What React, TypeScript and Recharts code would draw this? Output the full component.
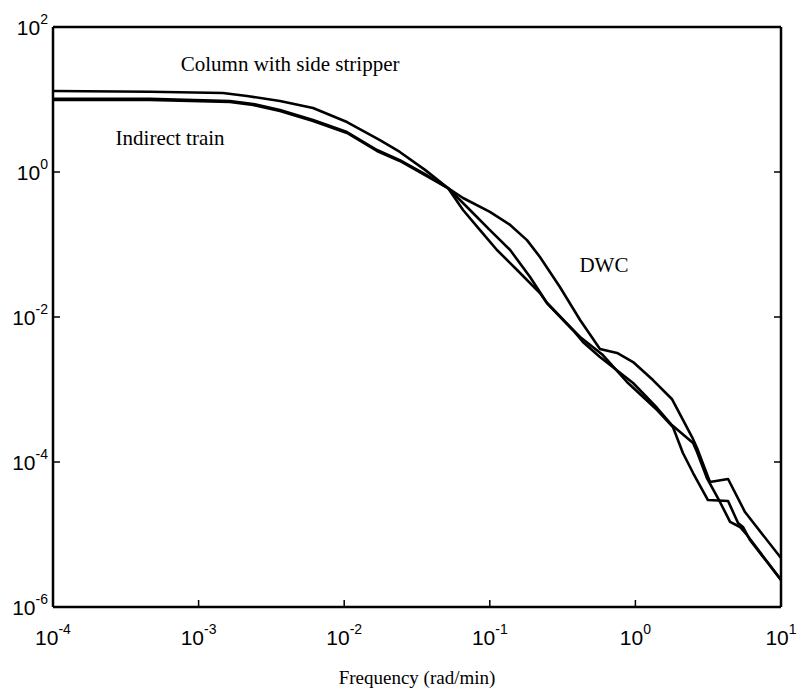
import React from "react";
import { LineChart, Line, XAxis, YAxis, ReferenceDot } from "recharts";

// Frequency (rad/min) and magnitude
const columnFreq = [1e-4, 4.63e-4, 1.47e-3, 2.15e-3, 3.62e-3, 6.11e-3, 0.01045, 0.0176, 0.0241, 0.0359, 0.0516, 0.0655, 0.0857, 0.112, 0.154, 0.221, 0.247, 0.372, 0.436, 0.571, 0.964, 1.41, 1.78, 2.49, 2.65, 3.1, 3.81, 4.47, 5.23, 5.84, 10];
const columnVal = [13.1, 12.8, 12.3, 11.2, 9.53, 7.63, 4.89, 2.76, 1.89, 1.07, 0.601, 0.299, 0.158, 0.0839, 0.0445, 0.0214, 0.0156, 0.00662, 0.00452, 0.00281, 0.00123, 0.000556, 0.000324, 0.000183, 0.000137, 6.01e-5, 2.81e-5, 1.49e-5, 1.27e-5, 9.84e-6, 2.36e-6];

const indirectFreq = [1e-4, 4.63e-4, 1.64e-3, 2.37e-3, 3.62e-3, 6.11e-3, 0.01045, 0.0168, 0.0241, 0.0359, 0.0516, 0.0731, 0.1002, 0.138, 0.189, 0.247, 0.356, 0.417, 0.598, 0.875, 1.41, 1.81, 2.12, 2.49, 3.15, 4.33, 5.07, 5.48, 6.12, 10];
const indirectVal = [10.2, 10.2, 9.53, 8.67, 7.16, 5.21, 3.56, 2.01, 1.46, 0.938, 0.601, 0.299, 0.158, 0.0839, 0.0356, 0.0156, 0.00728, 0.0053, 0.00299, 0.00127, 0.000521, 0.000304, 0.000133, 7.05e-5, 2.99e-5, 2.9e-5, 1.44e-5, 1.27e-5, 8.4e-6, 2.36e-6];

const dwcFreq = [1e-4, 4.63e-4, 1.64e-3, 2.37e-3, 3.62e-3, 6.11e-3, 0.01045, 0.0168, 0.0241, 0.0359, 0.0516, 0.0655, 0.1002, 0.138, 0.18, 0.221, 0.303, 0.417, 0.571, 0.748, 0.964, 1.32, 1.78, 2.45, 2.65, 3.25, 4.33, 5.66, 10];
const dwcVal = [9.85, 9.85, 9.24, 8.4, 6.93, 5.05, 3.45, 1.95, 1.42, 0.909, 0.601, 0.438, 0.281, 0.186, 0.115, 0.0673, 0.0259, 0.0091, 0.00362, 0.00319, 0.00239, 0.00135, 0.00074, 0.000221, 0.000156, 5.3e-5, 5.83e-5, 2.04e-5, 4.74e-6];

const xTicks = [1e-4, 1e-3, 1e-2, 1e-1, 1, 10];
const yTicks = [1e-6, 1e-4, 1e-2, 1, 100];

const xLabel = "Frequency (rad/min)";
const annotations = [
  { text: "Column with side stripper", f: 4.25e-3, v: 30.9 },
  { text: "Indirect train", f: 6.37e-4, v: 2.94 },
  { text: "DWC", f: 0.608, v: 0.0521 },
];

const toRows = (fs: number[], vs: number[]) => fs.map((f, i) => ({ f, v: vs[i] }));
const columnData = toRows(columnFreq, columnVal);
const indirectData = toRows(indirectFreq, indirectVal);
const dwcData = toRows(dwcFreq, dwcVal);

const SANS = "'Liberation Sans', Arial, sans-serif";
const SERIF = "'Liberation Serif', 'Times New Roman', serif";

const expOf = (v: number) => Math.round(Math.log10(v));

const BottomTick = (props: any) => {
  const { x, y, payload } = props;
  return (
    <g>
      <line x1={x} y1={y} x2={x} y2={y - 7} stroke="#000" strokeWidth={1.5} />
      <text x={x} y={y + 38} textAnchor="middle" fontFamily={SANS} fontSize={21} fill="#000">
        10<tspan dy={-11} fontSize={14}>{expOf(payload.value)}</tspan>
      </text>
    </g>
  );
};

const TopTick = (props: any) => {
  const { x, y } = props;
  return <line x1={x} y1={y} x2={x} y2={y + 7} stroke="#000" strokeWidth={1.5} />;
};

const LeftTick = (props: any) => {
  const { x, y, payload } = props;
  return (
    <g>
      <line x1={x} y1={y} x2={x + 7} y2={y} stroke="#000" strokeWidth={1.5} />
      <text x={x - 5} y={y + 8} textAnchor="end" fontFamily={SANS} fontSize={21} fill="#000">
        10<tspan dy={-11} fontSize={14}>{expOf(payload.value)}</tspan>
      </text>
    </g>
  );
};

const RightTick = (props: any) => {
  const { x, y } = props;
  return <line x1={x} y1={y} x2={x - 7} y2={y} stroke="#000" strokeWidth={1.5} />;
};

const lineProps = { type: "linear" as const, stroke: "#000", strokeWidth: 2.6, strokeLinejoin: "round" as const, dot: false, isAnimationActive: false };

export default function App() {
  return (
    <div style={{ position: "absolute", left: 0, top: 0, background: "#fff" }}>
      <LineChart width={799} height={693} margin={{ top: 0, right: 0, bottom: 0, left: 0 }}>
        <XAxis
          xAxisId="b"
          dataKey="f"
          type="number"
          scale="log"
          domain={[1e-4, 10]}
          ticks={xTicks}
          allowDataOverflow
          height={86}
          tickSize={0}
          tickMargin={0}
          tickLine={false}
          axisLine={{ stroke: "#000", strokeWidth: 2.5 }}
          tick={<BottomTick />}
          interval={0}
          label={{ value: xLabel, position: "insideBottom", offset: 9, fill: "#000", fontFamily: SERIF, fontSize: 19 }}
        />
        <XAxis
          xAxisId="t"
          orientation="top"
          type="number"
          scale="log"
          domain={[1e-4, 10]}
          ticks={xTicks}
          allowDataOverflow
          height={27}
          tickSize={0}
          tickMargin={0}
          tickLine={false}
          axisLine={{ stroke: "#000", strokeWidth: 2.5 }}
          tick={<TopTick />}
          interval={0}
        />
        <YAxis
          yAxisId="l"
          type="number"
          scale="log"
          domain={[1e-6, 100]}
          ticks={yTicks}
          allowDataOverflow
          width={53}
          tickSize={0}
          tickMargin={0}
          tickLine={false}
          axisLine={{ stroke: "#000", strokeWidth: 2.5 }}
          tick={<LeftTick />}
          interval={0}
        />
        <YAxis
          yAxisId="r"
          orientation="right"
          type="number"
          scale="log"
          domain={[1e-6, 100]}
          ticks={yTicks}
          allowDataOverflow
          width={18}
          tickSize={0}
          tickMargin={0}
          tickLine={false}
          axisLine={{ stroke: "#000", strokeWidth: 2.5 }}
          tick={<RightTick />}
          interval={0}
        />
        <Line xAxisId="b" yAxisId="l" data={columnData} dataKey="v" {...lineProps} />
        <Line xAxisId="b" yAxisId="l" data={indirectData} dataKey="v" {...lineProps} />
        <Line xAxisId="b" yAxisId="l" data={dwcData} dataKey="v" {...lineProps} />
        {annotations.map((a) => (
          <ReferenceDot
            key={a.text}
            xAxisId="b"
            yAxisId="l"
            x={a.f}
            y={a.v}
            r={0}
            stroke="none"
            fill="none"
            label={{ value: a.text, position: "center", fill: "#000", fontFamily: SERIF, fontSize: 21 }}
          />
        ))}
      </LineChart>
    </div>
  );
}
